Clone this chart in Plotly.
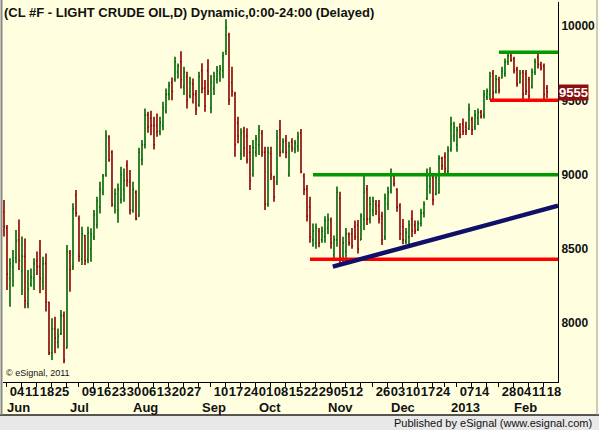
import pandas as pd
import plotly.graph_objects as go

# trading days shown on the chart (CL #F daily, Jun 2012 - Feb 2013)
holidays = ["2012-07-04", "2012-09-03", "2012-11-22", "2012-12-25", "2013-01-01", "2013-01-21"]
days = [d for d in pd.bdate_range("2012-06-01", "2013-02-19").strftime("%Y-%m-%d") if d not in holidays]

opens = [8750, 8640, 8300, 8380, 8440, 8560, 8350, 8450, 8130, 8260,
         8300, 8420, 8380, 8280, 8400, 8140, 7800, 7960, 7870, 7930,
         8050, 7830, 8470, 8380, 8860, 8700, 8430, 8590, 8430, 8500,
         8580, 8660, 8780, 8880, 9000, 9250, 9150, 8790, 8760, 8830,
         8900, 9060, 8950, 8760, 8880, 8720, 9100, 9200, 9400, 9380,
         9330, 9330, 9290, 9330, 9430, 9540, 9620, 9640, 9690, 9760,
         9590, 9660, 9530, 9610, 9540, 9470, 9700, 9580, 9700, 9450,
         9580, 9640, 9680, 9700, 9830, 9940, 9620, 9540, 9350, 9140,
         9290, 9260, 9150, 9000, 9150, 9200, 9280, 9150, 8800, 9140,
         8980, 8950, 9300, 9160, 9230, 9000, 9220, 9170, 9190, 9280,
         8990, 8900, 8780, 8560, 8540, 8620, 8560, 8580, 8640, 8690,
         8460, 8560, 8840, 8420, 8480, 8600, 8600, 8650, 8660, 8560,
         8700, 8900, 8700, 8760, 8800, 8790, 8720, 8580, 8800, 8890,
         8990, 8900, 8790, 8650, 8550, 8580, 8700, 8660, 8630, 8670,
         8740, 8840, 8920, 8980, 8870, 8880, 9110, 9120, 9020, 9170,
         9260, 9200, 9320, 9340, 9320, 9310, 9370, 9320, 9380, 9420,
         9400, 9520, 9540, 9680, 9560, 9640, 9650, 9680, 9760, 9800,
         9780, 9710, 9620, 9690, 9680, 9640, 9590, 9690, 9790, 9740,
         9730, 9580]
highs = [8829, 8660, 8436, 8492, 8627, 8698, 8582, 8570, 8357, 8368,
         8436, 8481, 8559, 8447, 8469, 8144, 8032, 8043, 7964, 8088,
         8077, 8526, 8492, 8806, 8896, 8725, 8649, 8593, 8649, 8638,
         8761, 8850, 8951, 9003, 9299, 9265, 9164, 8906, 8940, 9052,
         9041, 9097, 9030, 8951, 8895, 9180, 9232, 9445, 9423, 9429,
         9389, 9411, 9389, 9490, 9580, 9625, 9654, 9793, 9748, 9831,
         9726, 9692, 9659, 9647, 9569, 9693, 9749, 9637, 9776, 9670,
         9693, 9731, 9738, 9827, 10045, 9955, 9726, 9558, 9390, 9311,
         9322, 9311, 9199, 9232, 9266, 9334, 9300, 9188, 9188, 9188,
         8992, 9300, 9367, 9244, 9266, 9221, 9244, 9232, 9288, 9306,
         9008, 8930, 8850, 8671, 8670, 8640, 8650, 8720, 8738, 8710,
         8590, 8920, 8885, 8581, 8640, 8610, 8640, 8690, 8694, 8740,
         9010, 8930, 8850, 8850, 8828, 8828, 8750, 8873, 8918, 9041,
         9000, 8907, 8806, 8700, 8640, 8693, 8760, 8690, 8690, 8770,
         8820, 9041, 9050, 9008, 9008, 9130, 9120, 9150, 9190, 9389,
         9356, 9322, 9345, 9378, 9356, 9479, 9389, 9434, 9445, 9434,
         9569, 9580, 9692, 9704, 9670, 9659, 9726, 9782, 9827, 9816,
         9793, 9726, 9704, 9704, 9704, 9659, 9715, 9782, 9816, 9760,
         9748, 9603]
lows = [8582, 8223, 8110, 8245, 8402, 8357, 8189, 8099, 8099, 8245,
        8223, 8324, 8200, 8223, 8077, 7785, 7751, 7796, 7830, 7919,
        7729, 7830, 8211, 8357, 8716, 8413, 8391, 8391, 8402, 8413,
        8559, 8637, 8738, 8861, 8985, 9086, 8783, 8738, 8675, 8805,
        8816, 8918, 8731, 8742, 8693, 8715, 9063, 9176, 9281, 9265,
        9169, 9254, 9265, 9299, 9411, 9501, 9501, 9625, 9647, 9580,
        9535, 9445, 9513, 9479, 9401, 9457, 9547, 9423, 9536, 9412,
        9536, 9614, 9625, 9648, 9805, 9468, 9524, 9120, 9210, 9098,
        9120, 9075, 8896, 8986, 9120, 9131, 9120, 8761, 8784, 8963,
        8817, 8929, 9120, 9143, 9109, 8986, 9154, 9143, 9154, 9008,
        8862, 8683, 8540, 8514, 8500, 8510, 8540, 8540, 8600, 8500,
        8436, 8514, 8402, 8402, 8440, 8520, 8500, 8560, 8469, 8560,
        8626, 8660, 8670, 8720, 8727, 8671, 8525, 8560, 8761, 8873,
        8920, 8750, 8559, 8530, 8530, 8514, 8580, 8600, 8620, 8650,
        8710, 8828, 8870, 8794, 8860, 8870, 9030, 9000, 9000, 9154,
        9221, 9154, 9244, 9266, 9266, 9300, 9266, 9300, 9333, 9378,
        9378, 9502, 9502, 9502, 9546, 9546, 9647, 9659, 9737, 9760,
        9681, 9591, 9614, 9502, 9535, 9502, 9580, 9670, 9715, 9700,
        9505, 9513]
closes = [8650, 8330, 8400, 8420, 8550, 8420, 8450, 8150, 8230, 8310,
          8400, 8380, 8300, 8400, 8140, 7800, 7960, 7900, 7910, 8050,
          7750, 8480, 8360, 8770, 8740, 8450, 8600, 8420, 8610, 8600,
          8730, 8820, 8900, 8990, 9260, 9100, 8800, 8870, 8900, 9000,
          8960, 8960, 8760, 8900, 8700, 9150, 9200, 9400, 9320, 9330,
          9200, 9290, 9350, 9450, 9540, 9600, 9560, 9760, 9730, 9640,
          9690, 9500, 9620, 9540, 9440, 9660, 9580, 9460, 9560, 9620,
          9660, 9700, 9710, 9800, 9990, 9500, 9560, 9200, 9260, 9280,
          9180, 9100, 8960, 9180, 9240, 9300, 9150, 8800, 9150, 9000,
          8850, 9250, 9150, 9220, 9150, 9190, 9180, 9210, 9250, 9020,
          8900, 8720, 8580, 8620, 8640, 8540, 8620, 8690, 8700, 8540,
          8560, 8880, 8440, 8540, 8600, 8540, 8520, 8580, 8500, 8720,
          8880, 8700, 8800, 8820, 8750, 8700, 8560, 8840, 8880, 9000,
          8940, 8780, 8600, 8560, 8610, 8660, 8620, 8620, 8670, 8740,
          8800, 9000, 9010, 8830, 8980, 9110, 9060, 9040, 9160, 9340,
          9320, 9300, 9270, 9290, 9290, 9440, 9300, 9400, 9420, 9390,
          9540, 9560, 9660, 9550, 9640, 9570, 9700, 9760, 9800, 9770,
          9700, 9610, 9680, 9540, 9560, 9530, 9690, 9760, 9740, 9720,
          9540, 9555]

# weekly tick marks; empty text where eSignal dropped the label
week_days = ["2012-06-04", "2012-06-11", "2012-06-18", "2012-06-25", "2012-07-02", "2012-07-09",
             "2012-07-16", "2012-07-23", "2012-07-30", "2012-08-06", "2012-08-13", "2012-08-20",
             "2012-08-27", "2012-09-04", "2012-09-10", "2012-09-17", "2012-09-24", "2012-10-01",
             "2012-10-08", "2012-10-15", "2012-10-22", "2012-10-29", "2012-11-05", "2012-11-12",
             "2012-11-19", "2012-11-26", "2012-12-03", "2012-12-10", "2012-12-17", "2012-12-24",
             "2012-12-31", "2013-01-07", "2013-01-14", "2013-01-22", "2013-01-28", "2013-02-04",
             "2013-02-11", "2013-02-18"]
week_text = ["04", "11", "18", "25", "", "09", "16", "23", "30", "06", "13", "20", "27", "",
             "10", "17", "24", "01", "08", "15", "22", "29", "05", "12", "", "26", "03", "10",
             "17", "24", "", "07", "14", "", "28", "04", "11", "18"]
month_days = ["2012-06-01", "2012-07-02", "2012-08-01", "2012-09-04", "2012-10-01",
              "2012-11-01", "2012-12-03", "2013-01-02", "2013-02-01"]
month_text = ["Jun", "Jul", "Aug", "Sep", "Oct", "Nov", "Dec", "2013", "Feb"]
price_ticks = [8000, 8500, 9000, 9500, 10000]

# drawn lines: (start day, start value, end value)
green_levels = [("2012-10-26", 8998, 8998), ("2013-01-28", 9823, 9823)]
red_levels = [("2012-10-25", 8430, 8430), ("2013-01-23", 9500, 9500)]
trend_line = [("2012-11-06", 8380, 8790)]
last_price = 9555

pos = {d: i for i, d in enumerate(days)}
x = list(range(len(days)))
x_end = 184.67

FONT = "Liberation Sans"
BG = "#FFFFE0"

fig = go.Figure()
fig.add_trace(go.Ohlc(
    x=x, open=opens, high=highs, low=lows, close=closes,
    increasing=dict(line=dict(color="#006400", width=1.6)),
    decreasing=dict(line=dict(color="#8B0000", width=1.6)),
    tickwidth=0.35, hoverinfo="skip", showlegend=False,
))

shapes = []
for d, v0, v1 in green_levels:
    shapes.append(dict(type="line", xref="x", yref="y", x0=pos[d], x1=x_end, y0=v0, y1=v1,
                       line=dict(color="#009900", width=3.5)))
for d, v0, v1 in red_levels:
    shapes.append(dict(type="line", xref="x", yref="y", x0=pos[d], x1=x_end, y0=v0, y1=v1,
                       line=dict(color="#FF0000", width=3.5)))
for d, v0, v1 in trend_line:
    shapes.append(dict(type="line", xref="x", yref="y", x0=pos[d] - 0.4, x1=x_end, y0=v0, y1=v1,
                       line=dict(color="#10106A", width=4.5)))

# frame and bottom status strip (paper coords, plot area is 555x380 px)
px_x = lambda p: (p - 3) / 555
px_y = lambda p: (382 - p) / 380
shapes += [
    dict(type="rect", xref="paper", yref="paper", x0=px_x(0), x1=px_x(599), y0=px_y(415), y1=px_y(431),
         fillcolor="#E8E8E8", line=dict(width=0), layer="below"),
    dict(type="line", xref="paper", yref="paper", x0=px_x(0), x1=px_x(599), y0=px_y(415), y1=px_y(415),
         line=dict(color="#222222", width=1.5)),
    dict(type="line", xref="paper", yref="paper", x0=px_x(1.5), x1=px_x(1.5), y0=px_y(415), y1=px_y(0),
         line=dict(color="#888888", width=2)),
    dict(type="line", xref="paper", yref="paper", x0=px_x(597), x1=px_x(597), y0=px_y(415), y1=px_y(0),
         line=dict(color="#999999", width=1)),
]

annotations = [
    dict(text="(CL #F - LIGHT CRUDE OIL,D) Dynamic,0:00-24:00 (Delayed)", xref="paper", yref="paper",
         x=px_x(2), y=px_y(3), xanchor="left", yanchor="top", showarrow=False,
         font=dict(family=FONT, size=13, color="#111111", weight="bold")),
    dict(text="© eSignal, 2011", xref="paper", yref="paper", x=px_x(4), y=px_y(380),
         xanchor="left", yanchor="bottom", showarrow=False,
         font=dict(family=FONT, size=9, color="#111111")),
    dict(text="Published by eSignal (www.esignal.com)", xref="paper", yref="paper",
         x=px_x(594), y=px_y(423), xanchor="right", yanchor="middle", showarrow=False,
         font=dict(family=FONT, size=11, color="#111111")),
    dict(text=f"{last_price}", xref="paper", yref="y", x=1, y=last_price, xanchor="left",
         yanchor="middle", showarrow=False, bgcolor="#8B1010", borderpad=0,
         font=dict(family=FONT, size=13, color="white", weight="bold")),
]
for d, t in zip(month_days, month_text):
    annotations.append(dict(text=t, xref="x", yref="paper", x=pos[d], y=px_y(407),
                            xanchor="left", yanchor="middle", xshift=1, showarrow=False,
                            font=dict(family=FONT, size=13, color="#111111", weight="bold")))

fig.update_layout(
    width=599, height=430, autosize=False,
    margin=dict(l=3, r=41, t=2, b=48),
    paper_bgcolor=BG, plot_bgcolor=BG,
    shapes=shapes, annotations=annotations,
    showlegend=False,
)
fig.update_xaxes(
    range=[-0.33, x_end], showgrid=False, zeroline=False, rangeslider_visible=False,
    showline=True, linecolor="black", linewidth=1, automargin=False,
    ticks="outside", ticklen=4, tickcolor="black", tickangle=0,
    tickvals=[pos[d] for d in week_days], ticktext=week_text,
    ticklabelshift=10, ticklabelstandoff=-7,
    tickfont=dict(family=FONT, size=13, color="#111111", weight="bold"),
)
fig.update_yaxes(
    side="right", range=[7603, 10162], showgrid=False, zeroline=False, automargin=False,
    showline=True, linecolor="black", linewidth=1, ticks="",
    tickvals=price_ticks, ticktext=[str(v) for v in price_ticks],
    tickfont=dict(family=FONT, size=12, color="#111111", weight="bold"),
)

# the page's default body margin would push the 599x430 figure off the window
fig.write_html("out.html", config={"displayModeBar": False},
               post_script="document.body.style.margin='0';document.body.style.overflow='hidden';")
